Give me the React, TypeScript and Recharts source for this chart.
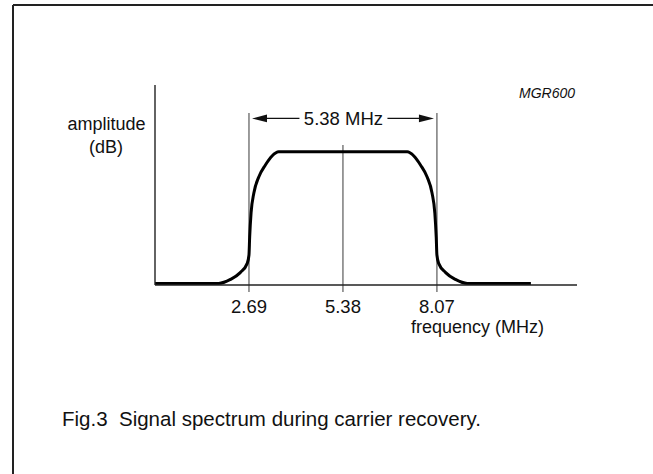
import React from 'react';
import { ComposedChart, Line, XAxis, YAxis, ReferenceLine } from 'recharts';

// Spectrum curve (frequency in MHz, relative amplitude)
const frequency = [0, 1.82, 2.16, 2.44, 2.64, 2.69, 2.71, 2.75, 2.83, 2.97, 3.16, 3.35, 3.54, 5.38, 7.22, 7.41, 7.6, 7.79, 7.93, 8.01, 8.05, 8.07, 8.12, 8.32, 8.6, 8.94, 10.76];
const amplitude = [0.8, 0.8, 2.8, 6.2, 10.8, 15, 24, 36, 46, 54, 60, 64.5, 66.6, 66.6, 66.6, 64.5, 60, 54, 46, 36, 24, 15, 10.8, 6.2, 2.8, 0.8, 0.8];

// Marker frequencies and their line heights
const markerFreqs = [2.69, 5.38, 8.07];
const markerTops = [86, 70, 86];
const tickLabels = ['2.69', '5.38', '8.07'];
const bandLabel = '5.38 MHz';
const bandLevel = 83.3;

const data = frequency.map((f, i) => ({ f, a: amplitude[i] }));

const FONT = '"Liberation Sans", Arial, Helvetica, sans-serif';

const ArrowShape = (props: any) => {
  const { x1, y1, x2 } = props;
  const left = Math.min(x1, x2) + 3;
  const right = Math.max(x1, x2) - 3;
  const y = y1;
  const mid = (left + right) / 2 + 0.5;
  const half = 44;
  const hl = 15;
  const hh = 3.8;
  return (
    <g>
      <line x1={left + hl - 1} y1={y} x2={mid - half} y2={y} stroke="#111" strokeWidth={1.3} />
      <line x1={mid + half} y1={y} x2={right - hl + 1} y2={y} stroke="#111" strokeWidth={1.3} />
      <polygon points={`${left},${y} ${left + hl},${y - hh} ${left + hl},${y + hh}`} fill="#111" />
      <polygon points={`${right},${y} ${right - hl},${y - hh} ${right - hl},${y + hh}`} fill="#111" />
      <text x={mid} y={y + 6.5} textAnchor="middle" fontFamily={FONT} fontSize={18.5} fill="#111">
        {bandLabel}
      </text>
    </g>
  );
};

export default function App() {
  return (
    <div style={{ position: 'absolute', left: 0, top: 0, width: 653, height: 474, background: '#fff' }}>
      <ComposedChart
        width={653}
        height={474}
        data={data}
        margin={{ top: 85, right: 76, bottom: 159, left: 95 }}
      >
        <XAxis
          dataKey="f"
          type="number"
          domain={[0, 12.08]}
          ticks={markerFreqs}
          tickFormatter={(v: number) => tickLabels[markerFreqs.indexOf(v)] ?? String(v)}
          height={30}
          tickLine={false}
          tickSize={7}
          tickMargin={8}
          axisLine={{ stroke: '#222', strokeWidth: 1.4 }}
          tick={{ fill: '#111', fontSize: 18.5, fontFamily: FONT }}
          interval={0}
          allowDataOverflow
        />
        <YAxis
          type="number"
          domain={[0, 100]}
          width={60}
          tick={false}
          tickLine={false}
          axisLine={{ stroke: '#222', strokeWidth: 1.4 }}
          allowDataOverflow
        />
        {markerFreqs.map((f, i) => (
          <ReferenceLine
            key={f}
            segment={[{ x: f, y: -3.5 }, { x: f, y: markerTops[i] }]}
            stroke="#666"
            strokeWidth={1.3}
            ifOverflow="visible"
          />
        ))}
        <ReferenceLine
          segment={[{ x: markerFreqs[0], y: bandLevel }, { x: markerFreqs[2], y: bandLevel }]}
          ifOverflow="visible"
          shape={ArrowShape}
        />
        <Line
          dataKey="a"
          type="monotone"
          stroke="#000"
          strokeWidth={3}
          dot={false}
          activeDot={false}
          isAnimationActive={false}
        />
      </ComposedChart>
      <svg
        width={653}
        height={474}
        style={{ position: 'absolute', left: 0, top: 0, pointerEvents: 'none' }}
      >
        <line x1={13} y1={5} x2={653} y2={5} stroke="#222" strokeWidth={2} />
        <line x1={13} y1={5} x2={13} y2={474} stroke="#222" strokeWidth={2} />
        <text x={106.5} y={129.5} textAnchor="middle" fontFamily={FONT} fontSize={18} fill="#111">amplitude</text>
        <text x={106} y={153} textAnchor="middle" fontFamily={FONT} fontSize={18} fill="#111">(dB)</text>
        <text x={575} y={98} textAnchor="end" fontFamily={FONT} fontSize={14} fontStyle="italic" fill="#111">MGR600</text>
        <text x={544} y={333} textAnchor="end" fontFamily={FONT} fontSize={18} fill="#111">frequency (MHz)</text>
        <text x={62} y={426} fontFamily={FONT} fontSize={20.5} fill="#111" style={{ whiteSpace: 'pre' }}>{'Fig.3  Signal spectrum during carrier recovery.'}</text>
      </svg>
    </div>
  );
}
